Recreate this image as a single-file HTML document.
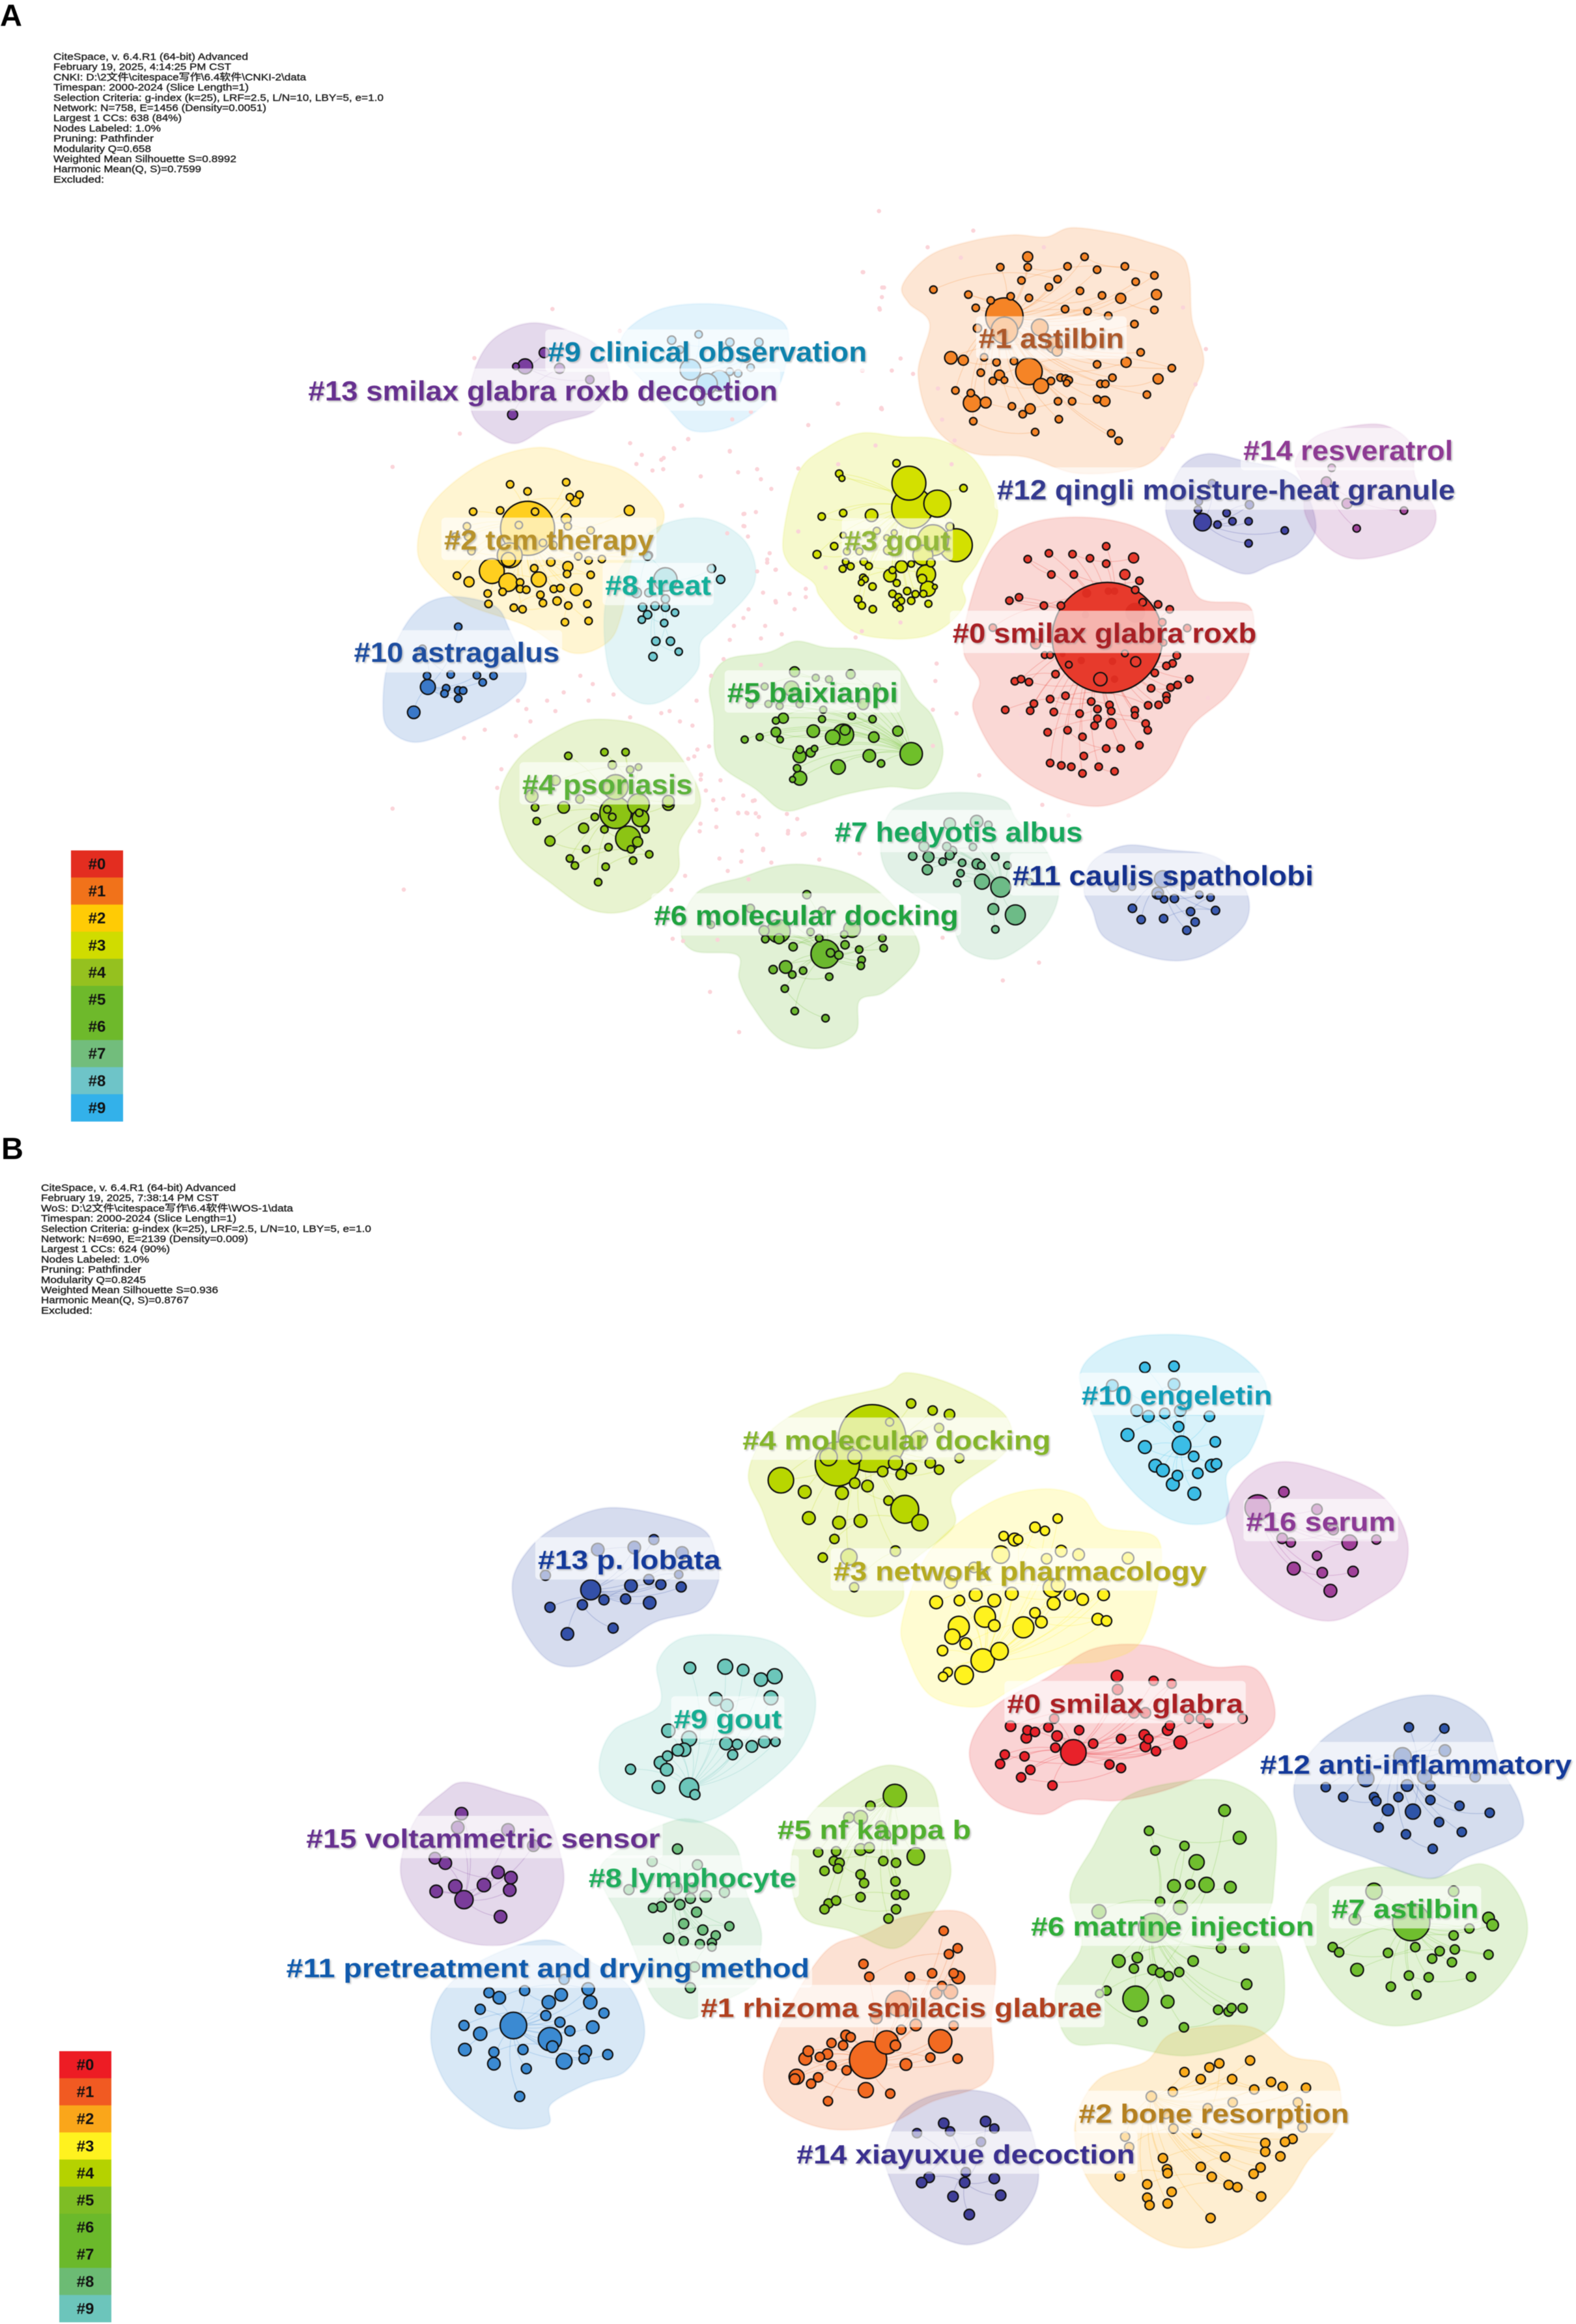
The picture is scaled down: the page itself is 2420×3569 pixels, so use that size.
<!DOCTYPE html>
<html lang="en">
<head>
<meta charset="utf-8">
<title>CiteSpace keyword cluster maps</title>
<style>
html,body{margin:0;padding:0;background:#fff;}
body{width:2420px;height:3569px;overflow:hidden;}
svg{display:block;filter:blur(.6px);}
text{font-family:"Liberation Sans","Noto Sans CJK SC",sans-serif;}
.meta{font-size:14.5px;fill:#222;font-weight:400;stroke:#222;stroke-width:.4px;}
.panel{font-size:47px;font-weight:700;fill:#000;}
.lbl{font-weight:700;filter:drop-shadow(2px 2px 1px rgba(130,130,130,.45));}
.leg{font-weight:700;font-size:24px;fill:#111;text-anchor:middle;}
</style>
</head>
<body>
<svg id="chart" xmlns="http://www.w3.org/2000/svg" width="2420" height="3569" viewBox="0 0 2420 3569">
<rect width="2420" height="3569" fill="#fff"/>
<text class="panel" x="0" y="40">A</text>
<g>
<text class="meta" x="82" y="92" textLength="299" lengthAdjust="spacingAndGlyphs">CiteSpace, v. 6.4.R1 (64-bit) Advanced</text>
<text class="meta" x="82" y="107.7" textLength="273" lengthAdjust="spacingAndGlyphs">February 19, 2025, 4:14:25 PM CST</text>
<text class="meta" x="82" y="123.4" textLength="388" lengthAdjust="spacingAndGlyphs">CNKI: D:\2文件\citespace写作\6.4软件\CNKI-2\data</text>
<text class="meta" x="82" y="139.1" textLength="300" lengthAdjust="spacingAndGlyphs">Timespan: 2000-2024 (Slice Length=1)</text>
<text class="meta" x="82" y="154.8" textLength="507" lengthAdjust="spacingAndGlyphs">Selection Criteria: g-index (k=25), LRF=2.5, L/N=10, LBY=5, e=1.0</text>
<text class="meta" x="82" y="170.5" textLength="327" lengthAdjust="spacingAndGlyphs">Network: N=758, E=1456 (Density=0.0051)</text>
<text class="meta" x="82" y="186.2" textLength="197" lengthAdjust="spacingAndGlyphs">Largest 1 CCs: 638 (84%)</text>
<text class="meta" x="82" y="201.9" textLength="165" lengthAdjust="spacingAndGlyphs">Nodes Labeled: 1.0%</text>
<text class="meta" x="82" y="217.6" textLength="154" lengthAdjust="spacingAndGlyphs">Pruning: Pathfinder</text>
<text class="meta" x="82" y="233.3" textLength="150" lengthAdjust="spacingAndGlyphs">Modularity Q=0.658</text>
<text class="meta" x="82" y="249" textLength="281" lengthAdjust="spacingAndGlyphs">Weighted Mean Silhouette S=0.8992</text>
<text class="meta" x="82" y="264.7" textLength="227" lengthAdjust="spacingAndGlyphs">Harmonic Mean(Q, S)=0.7599</text>
<text class="meta" x="82" y="280.4" textLength="78" lengthAdjust="spacingAndGlyphs">Excluded:</text>
</g>
<text class="panel" x="2" y="1780">B</text>
<g>
<text class="meta" x="63" y="1829" textLength="299" lengthAdjust="spacingAndGlyphs">CiteSpace, v. 6.4.R1 (64-bit) Advanced</text>
<text class="meta" x="63" y="1844.7" textLength="273" lengthAdjust="spacingAndGlyphs">February 19, 2025, 7:38:14 PM CST</text>
<text class="meta" x="63" y="1860.4" textLength="387" lengthAdjust="spacingAndGlyphs">WoS: D:\2文件\citespace写作\6.4软件\WOS-1\data</text>
<text class="meta" x="63" y="1876.1" textLength="300" lengthAdjust="spacingAndGlyphs">Timespan: 2000-2024 (Slice Length=1)</text>
<text class="meta" x="63" y="1891.8" textLength="507" lengthAdjust="spacingAndGlyphs">Selection Criteria: g-index (k=25), LRF=2.5, L/N=10, LBY=5, e=1.0</text>
<text class="meta" x="63" y="1907.5" textLength="318" lengthAdjust="spacingAndGlyphs">Network: N=690, E=2139 (Density=0.009)</text>
<text class="meta" x="63" y="1923.2" textLength="198" lengthAdjust="spacingAndGlyphs">Largest 1 CCs: 624 (90%)</text>
<text class="meta" x="63" y="1938.9" textLength="166" lengthAdjust="spacingAndGlyphs">Nodes Labeled: 1.0%</text>
<text class="meta" x="63" y="1954.6" textLength="154" lengthAdjust="spacingAndGlyphs">Pruning: Pathfinder</text>
<text class="meta" x="63" y="1970.3" textLength="161" lengthAdjust="spacingAndGlyphs">Modularity Q=0.8245</text>
<text class="meta" x="63" y="1986" textLength="272" lengthAdjust="spacingAndGlyphs">Weighted Mean Silhouette S=0.936</text>
<text class="meta" x="63" y="2001.7" textLength="227" lengthAdjust="spacingAndGlyphs">Harmonic Mean(Q, S)=0.8767</text>
<text class="meta" x="63" y="2017.4" textLength="79" lengthAdjust="spacingAndGlyphs">Excluded:</text>
</g>
<g id="blobs"></g>
<g id="dots"></g>
<g id="edges"></g>
<g id="nodes"></g>
<g id="labels"></g>
<g id="legends"></g>
</svg>
<script>
/* layout frames: map layout units onto the page */
const frameAR={ox:1300,oy:300,kx:1.568,ky:1.568};
const frameAL={ox:400,oy:400,kx:1.568,ky:1.568};
const frameAB={ox:950,oy:1150,kx:1.568,ky:3};
const frameAC={ox:1000,oy:600,kx:2.613,ky:2.613};
const frameBR={ox:1000,oy:2050,kx:1.12,ky:1.12};
const frameBL={ox:400,oy:2300,kx:1.568,ky:1.568};

/* PANEL A — nodes [x,y,size] and hull outlines [x,y] */
const a0Nodes=[[628,1065,133],[625,845,9],[487,862,9],[544,864,9],[586,874,9],[691,873,12],[436,876,9],[625,887,9],[493,913,9],[547,913,9],[670,913,12],[705,928,9],[392,976,9],[415,968,9],[695,950,9],[750,985,9],[778,997,9],[475,988,9],[516,988,9],[713,980,9],[352,1041,9],[455,1080,12],[760,1028,9],[820,1042,9],[763,1077,8],[795,1108,9],[477,1107,8],[490,1107,8],[535,1130,8],[670,1103,8],[696,1123,12],[785,1127,9],[770,1133,9],[503,1153,9],[742,1150,9],[405,1170,9],[420,1165,9],[439,1172,9],[611,1165,16],[733,1187,9],[780,1185,9],[797,1179,9],[825,1165,9],[770,1205,9],[770,1215,8],[726,1228,9],[751,1227,9],[527,1205,9],[490,1213,9],[451,1224,9],[589,1219,9],[633,1227,9],[442,1241,9],[382,1239,9],[499,1244,9],[561,1248,9],[604,1237,9],[637,1242,9],[694,1240,9],[694,1252,8],[604,1260,9],[637,1272,12],[597,1277,9],[720,1272,9],[725,1288,9],[484,1293,9],[532,1288,9],[568,1304,9],[625,1332,9],[660,1332,9],[705,1324,9],[571,1350,9],[490,1367,9],[517,1373,9],[541,1376,9],[607,1376,9],[568,1392,9],[645,1387,9]];
const a0Inner=[[578,958,11],[630,953,9],[645,953,9],[695,1005,24],[565,1120,9],[640,1122,9],[575,1010,9],[520,1105,7],[680,1065,12],[560,1045,9],[645,1165,9]];
const a0Hull=[[282,1100],[295,990],[350,850],[440,790],[570,775],[700,800],[800,870],[850,970],[970,990],[970,1100],[920,1200],[830,1280],[760,1400],[620,1470],[480,1440],[370,1360],[305,1240],[320,1170]];
const a1Nodes=[[380,292,45],[439,424,32],[436,148,12],[436,173,9],[370,173,9],[532,171,9],[573,148,9],[603,179,9],[670,171,9],[741,193,9],[696,208,9],[421,205,9],[508,202,9],[487,221,9],[209,227,9],[293,239,9],[347,253,9],[395,243,9],[439,247,9],[562,230,9],[615,241,9],[660,248,12],[746,239,12],[741,276,9],[311,271,9],[526,274,9],[580,279,9],[630,290,9],[693,310,9],[315,320,10],[380,325,32],[465,318,20],[500,360,20],[507,375,12],[708,378,9],[251,391,15],[281,397,12],[331,390,9],[361,402,9],[403,399,9],[603,407,9],[673,402,12],[783,416,9],[323,427,9],[368,433,12],[352,447,9],[380,445,8],[468,459,18],[492,447,9],[515,439,9],[527,441,9],[535,445,9],[530,452,8],[611,454,9],[623,454,9],[640,439,9],[750,442,12],[262,470,9],[299,476,9],[302,500,21],[335,499,13],[723,480,9],[509,496,9],[543,496,9],[603,491,9],[622,496,12],[398,508,9],[442,514,12],[424,527,9],[305,544,9],[511,539,9],[454,570,9],[637,573,9],[655,591,9]];
const a1Hull=[[135,215],[200,145],[300,110],[400,95],[480,100],[540,78],[640,90],[720,110],[800,140],[825,190],[832,300],[860,400],[825,490],[790,570],[720,650],[560,670],[430,630],[300,620],[210,555],[172,430],[200,310],[150,260]];
const a2Nodes=[[643,645,65],[557,748,30],[600,710,30],[596,775,22],[601,539,9],[643,556,9],[736,534,9],[745,570,9],[768,564,9],[758,580,12],[512,605,9],[577,602,9],[661,605,9],[888,602,12],[736,622,12],[622,637,9],[497,640,9],[740,640,9],[795,650,9],[500,665,9],[470,665,9],[508,700,9],[680,680,9],[705,685,9],[935,710,9],[765,712,9],[790,722,9],[822,719,9],[597,720,17],[699,726,10],[740,737,12],[738,755,9],[659,741,9],[670,768,18],[473,759,9],[502,774,12],[795,757,9],[625,775,9],[625,791,9],[640,793,9],[583,798,9],[547,802,9],[760,793,14],[706,791,9],[722,789,9],[674,805,9],[549,827,9],[610,836,9],[631,840,9],[680,825,9],[714,820,10],[741,831,9],[787,827,9],[733,871,9],[790,868,9]];
const a2Hull=[[378,700],[410,590],[530,490],[670,450],[780,480],[880,510],[965,590],[960,650],[900,700],[870,850],[835,920],[750,945],[640,880],[500,830],[420,770]];
const a3Nodes=[[1047,470,82],[1034,371,68],[1148,453,54],[1222,620,66],[1130,600,62],[984,291,15],[754,333,15],[765,352,12],[1253,391,15],[684,505,15],[770,491,15],[884,500,25],[905,562,14],[1198,545,16],[770,580,12],[945,590,12],[975,570,12],[734,624,15],[665,657,16],[785,645,14],[835,645,14],[950,640,18],[1090,660,40],[780,686,13],[853,686,15],[768,715,14],[800,705,14],[873,704,14],[1004,706,24],[1043,695,13],[1122,690,17],[968,720,14],[958,742,25],[1103,737,38],[1087,755,18],[850,750,14],[858,757,13],[843,770,12],[888,786,15],[985,772,14],[1110,795,30],[1138,787,10],[830,837,15],[845,862,15],[889,877,15],[968,815,15],[1027,804,15],[992,828,14],[1003,843,14],[1060,816,14],[1092,815,14],[1043,843,15],[983,857,14],[998,873,13],[1112,855,14]];
const a3Hull=[[530,580],[590,330],[700,230],[840,170],[1000,185],[1150,195],[1290,270],[1375,420],[1385,530],[1310,690],[1250,780],[1260,850],[1200,930],[1100,985],[950,995],[800,960],[680,830],[650,770],[550,690]];
const a4Nodes=[[855,1330,38],[885,1392,30],[910,1310,26],[915,1343,20],[741,1193,9],[828,1184,9],[879,1184,9],[847,1215,10],[890,1226,9],[910,1220,8],[710,1252,12],[653,1290,15],[855,1268,30],[982,1310,14],[982,1302,14],[769,1297,10],[661,1317,9],[730,1317,14],[835,1322,9],[847,1340,9],[912,1330,9],[805,1340,9],[665,1350,9],[778,1367,12],[828,1370,9],[927,1370,9],[908,1400,12],[697,1398,12],[784,1418,9],[838,1413,9],[892,1418,9],[745,1440,9],[757,1457,9],[936,1430,9],[897,1445,9],[831,1460,9],[813,1497,9]];
const a4Hull=[[575,1300],[620,1200],[720,1130],[800,1105],[920,1120],[1000,1180],[1060,1300],[1010,1400],[1000,1480],[900,1560],[800,1565],[700,1500],[610,1420]];
const a5Nodes=[[770,1380,42],[1043,1457,45],[728,1390,29],[575,1128,20],[800,1138,18],[660,1152,14],[713,1158,14],[562,1195,30],[455,1187,14],[905,1187,14],[395,1260,14],[470,1257,14],[515,1265,14],[595,1258,14],[850,1258,22],[690,1280,14],[530,1314,20],[500,1324,14],[685,1318,14],[805,1305,15],[888,1318,15],[500,1370,19],[650,1366,25],[778,1362,20],[893,1390,21],[989,1366,20],[375,1400,14],[435,1390,14],[517,1400,13],[596,1440,15],[640,1452,18],[655,1436,13],[595,1467,26],[875,1465,25],[922,1496,15],[750,1510,29],[585,1515,15],[596,1555,28],[567,1560,12]];
const a5Hull=[[235,1180],[300,1080],[470,1050],[580,1005],[700,1030],[850,1040],[980,1100],[1060,1230],[1130,1310],[1170,1460],[1100,1590],[950,1590],[780,1620],[650,1660],[530,1685],[420,1600],[270,1490],[250,1310]];
const a6Nodes=[[497,945,34],[385,840,28],[453,672,10],[317,735,10],[490,745,9],[222,810,9],[350,838,12],[462,843,9],[562,830,20],[353,877,9],[386,875,12],[483,872,9],[543,855,9],[635,872,9],[420,912,10],[545,903,10],[579,925,9],[638,918,9],[530,950,10],[510,940,10],[585,972,9],[583,1000,9],[402,1005,15],[372,1017,10],[418,1040,9],[444,1022,9],[507,1050,9],[400,1105,9],[424,1208,9],[498,1241,9]];
const a6Hull=[[150,830],[190,660],[300,590],[380,540],[460,535],[560,580],[640,680],[715,860],[715,980],[640,1120],[580,1160],[570,1310],[490,1380],[390,1340],[320,1180],[290,1060],[285,950],[180,930]];
const a7Nodes=[[920,637,24],[955,765,24],[875,612,18],[797,345,14],[862,335,15],[890,350,9],[728,410,12],[735,450,12],[853,452,9],[790,450,10],[803,470,11],[797,490,11],[708,494,10],[746,498,13],[780,520,9],[827,525,9],[907,497,9],[863,530,12],[873,538,9],[936,537,9],[743,557,12],[823,573,9],[815,618,9],[990,613,8],[902,738,13],[907,832,9]];
const a7Hull=[[630,450],[650,300],[700,240],[780,205],[860,205],[930,240],[960,330],[1030,470],[1060,650],[1030,810],[960,930],[900,970],[830,920],[790,770],[710,670],[650,580]];
const a8Nodes=[[975,768,28],[1086,742,10],[1108,768,10],[932,712,10],[905,800,12],[920,835,10],[950,832,10],[975,835,10],[998,848,9],[932,853,10],[918,865,9],[972,873,9],[952,917,10],[987,917,10],[1007,942,9],[945,954,10],[935,800,10],[975,815,10]];
const a8Hull=[[830,830],[880,720],[960,640],[1075,622],[1170,680],[1188,780],[1100,880],[1060,920],[1050,990],[970,1060],[900,1060],[840,990]];
const a9Nodes=[[1035,263,25],[1105,290,25],[1075,297,25],[990,192,10],[1055,178,9],[1130,197,10],[1200,197,10],[1130,268,9],[1150,272,9],[1180,258,9],[1170,235,10],[1060,340,9],[1010,215,9]];
const a9Hull=[[880,170],[970,115],[1100,105],[1220,130],[1270,170],[1260,270],[1220,340],[1130,400],[1040,410],[985,360],[920,290],[870,230]];
const a10Nodes=[[403,1027,18],[369,1088,15],[476,882,9],[390,935,9],[401,1000,9],[458,997,9],[521,999,9],[561,1000,9],[535,1016,9],[447,1030,9],[443,1043,9],[476,1035,9],[488,1036,9],[476,1055,9]];
const a10Hull=[[295,1070],[310,960],[370,850],[450,810],[560,830],[600,890],[640,1000],[600,1060],[500,1115],[380,1160],[310,1130]];
const a11Nodes=[[1310,600,20],[1192,635,12],[1236,635,9],[1298,665,14],[1378,630,9],[1313,693,9],[1300,675,9],[1338,690,10],[1398,672,9],[1425,685,9],[1237,735,10],[1377,750,10],[1437,745,10],[1258,787,10],[1312,782,10],[1388,798,10],[1368,836,10]];
const a11Hull=[[1120,650],[1140,520],[1220,445],[1320,465],[1440,500],[1510,650],[1510,800],[1440,920],[1360,975],[1270,955],[1170,870],[1140,740]];
const a12Nodes=[[857,787,21],[880,693,9],[848,737,9],[970,745,10],[846,757,9],[915,765,9],[893,793,9],[929,785,9],[968,785,9],[1055,807,9],[968,838,9]];
const a12Hull=[[775,720],[810,650],[870,622],[960,640],[1050,660],[1100,700],[1130,800],[1090,860],[1020,890],[960,912],[880,880],[800,830],[770,770]];
const a13Nodes=[[637,255,18],[683,222,12],[615,255,8],[720,260,12],[793,287,10],[607,371,12]];
const a13Hull=[[510,280],[560,190],[660,150],[790,190],[830,240],[840,310],[800,365],[700,395],[620,440],[560,420],[510,370]];
const a14Nodes=[[1155,690,12],[1168,656,9],[1205,742,12],[1342,759,9],[1228,802,9]];
const a14Hull=[[1080,640],[1130,580],[1220,555],[1300,555],[1360,600],[1370,680],[1418,760],[1400,820],[1320,860],[1220,875],[1150,840],[1105,770],[1100,700]];

/* PANEL B */
const b0Nodes=[[726,718,22],[801,587,10],[864,595,8],[895,600,8],[802,610,9],[850,650,9],[830,650,9],[925,660,8],[945,660,8],[958,668,8],[1017,660,8],[618,673,9],[693,660,8],[647,680,8],[660,683,8],[683,675,8],[736,680,8],[645,693,9],[698,690,9],[808,695,8],[848,688,9],[855,695,8],[888,680,9],[892,672,8],[910,701,11],[695,710,8],[760,703,8],[608,722,8],[642,725,8],[850,708,9],[868,716,8],[600,738,8],[652,748,8],[636,761,8],[788,739,8],[808,745,8],[690,775,8]];
const b0Hull=[[547,720],[590,640],[680,590],[760,540],[860,535],[960,570],[1040,575],[1073,650],[1040,700],[920,770],[810,800],[730,800],[670,825],[590,800]];
const b1Nodes=[[373,1247,32],[425,1150,22],[497,1215,20],[405,1217,20],[503,1025,8],[527,1055,8],[512,1065,8],[365,1082,8],[375,1104,8],[445,1104,8],[483,1098,8],[528,1105,11],[520,1098,8],[490,1132,10],[515,1130,12],[500,1120,8],[387,1175,10],[455,1187,10],[430,1195,8],[520,1188,8],[420,1222,9],[335,1205,9],[343,1208,8],[310,1218,8],[330,1222,8],[270,1232,9],[303,1237,9],[265,1245,11],[290,1242,8],[438,1255,10],[480,1243,8],[527,1245,8],[310,1257,8],[336,1265,8],[250,1276,13],[247,1280,9],[287,1277,8],[275,1288,8],[369,1299,13],[411,1305,8],[304,1318,8]];
const b1Hull=[[193,1270],[230,1170],[300,1060],[370,1030],[440,1000],[540,995],[590,1070],[585,1180],[580,1280],[480,1320],[400,1360],[300,1365],[220,1330]];
const b2Nodes=[[938,1373,8],[1030,1248,8],[977,1253,8],[960,1260,8],[917,1268,8],[945,1280,8],[999,1280,8],[1066,1285,8],[1086,1293,8],[1037,1298,8],[1126,1295,8],[897,1302,8],[860,1310,9],[1000,1320,8],[1112,1320,8],[885,1340,8],[957,1330,8],[1120,1363,8],[898,1365,8],[815,1379,8],[822,1397,8],[1103,1383,8],[1056,1390,8],[1090,1388,8],[1056,1405,8],[1082,1413,8],[880,1416,8],[987,1414,8],[887,1435,8],[945,1431,8],[888,1442,8],[1048,1432,8],[806,1447,8],[964,1448,8],[1036,1443,8],[853,1461,8],[993,1462,8],[1008,1466,8],[895,1474,8],[853,1484,8],[1049,1482,8],[857,1497,8],[888,1494,8],[962,1519,8]];
const b2Hull=[[730,1350],[770,1280],[850,1250],[900,1200],[1030,1190],[1100,1240],[1170,1260],[1185,1350],[1130,1420],[1090,1480],[1010,1550],[900,1568],[790,1500],[740,1430]];
const b3Nodes=[[570,560,20],[640,503,18],[574,485,18],[529,502,18],[699,316,8],[660,331,9],[677,337,8],[606,346,8],[625,352,11],[631,352,8],[601,378,15],[705,372,10],[735,378,10],[820,384,10],[680,385,9],[515,425,11],[555,400,9],[570,412,9],[690,435,16],[700,430,12],[490,460,11],[530,457,9],[558,447,11],[590,457,11],[620,445,11],[692,462,11],[720,447,10],[742,455,10],[778,447,10],[660,478,9],[671,494,10],[590,500,10],[768,489,10],[783,492,9],[518,519,13],[541,531,10],[599,544,15],[501,543,9],[538,585,16],[510,580,8],[502,588,8]];
const b3Hull=[[432,490],[480,370],[580,290],[670,265],[740,280],[780,330],[870,350],[870,440],[840,530],[780,560],[700,570],[620,610],[560,640],[480,620],[440,550]];
const b4Nodes=[[380,178,58],[320,222,38],[436,300,24],[223,250,22],[447,118,8],[484,130,8],[513,137,9],[460,180,15],[495,160,8],[410,150,7],[305,210,15],[350,210,12],[420,220,12],[447,230,9],[430,240,9],[398,235,9],[480,220,9],[495,232,8],[530,212,8],[264,270,11],[328,272,11],[350,255,9],[372,260,10],[408,285,8],[462,323,14],[271,315,11],[323,323,11],[360,320,11],[315,351,8],[295,383,8],[420,372,9],[340,382,14],[349,434,8]];
const b4Hull=[[167,240],[200,170],[280,120],[400,90],[440,65],[530,90],[610,140],[610,200],[520,270],[520,330],[440,400],[430,460],[370,485],[290,450],[220,370],[190,300]];
const b5Nodes=[[419,793,20],[455,897,15],[377,810,8],[360,830,12],[340,830,9],[395,845,9],[375,882,9],[287,890,8],[318,888,8],[403,860,9],[360,885,10],[399,905,8],[421,908,8],[298,922,8],[314,905,8],[324,908,8],[321,918,8],[360,928,8],[366,943,8],[420,940,8],[360,967,8],[421,963,8],[435,963,8],[305,978,8],[318,973,8],[298,988,8],[421,988,8],[408,1004,8]];
const b5Hull=[[240,910],[270,830],[340,770],[410,740],[480,770],[500,850],[515,930],[480,1000],[420,1055],[340,1025],[260,1000]];
const b6Nodes=[[833,1142,22],[863,1020,25],[986,818,10],[856,853,8],[867,887,8],[1012,865,11],[917,879,8],[938,907,13],[899,948,11],[927,945,8],[955,946,13],[996,950,10],[875,975,8],[910,985,12],[770,992,12],[980,1055,8],[1020,1055,8],[804,1077,11],[836,1071,9],[932,1077,9],[830,1090,8],[863,1092,9],[875,1097,8],[890,1103,8],[908,1096,8],[1024,1117,9],[783,1128,8],[771,1133,7],[888,1147,11],[845,1181,8],[916,1191,8],[975,1161,8],[993,1164,8],[998,1158,8],[1017,1158,8]];
const b6Hull=[[695,1130],[740,1050],[720,960],[760,880],[810,800],[900,770],[1000,770],[1070,830],[1070,960],[1060,1010],[1085,1070],[1085,1160],[1040,1210],[920,1240],[800,1220],[720,1215]];
const b7Nodes=[[1307,1010,32],[1243,957,14],[1380,957,9],[1210,1005,10],[1440,1003,10],[1447,1015,10],[1407,1021,8],[1380,1033,8],[1172,1053,8],[1183,1062,8],[1267,1063,8],[1314,1053,8],[1356,1060,8],[1382,1057,8],[1343,1073,8],[1440,1066,8],[1377,1079,8],[1214,1092,11],[1303,1102,8],[1337,1105,8],[1410,1104,8],[1272,1121,8],[1316,1135,8]];
const b7Hull=[[1118,1020],[1150,950],[1250,915],[1340,935],[1430,910],[1490,960],[1505,1040],[1450,1130],[1370,1170],[1260,1187],[1170,1130]];
const b8Nodes=[[1040,940,12],[1004,846,12],[943,876,12],[1052,884,12],[887,944,12],[1000,940,15],[1117,950,12],[985,962,12],[1035,965,12],[1072,960,14],[945,988,11],[965,985,12],[1010,980,12],[1050,998,12],[1019,1026,12],[1129,1032,11],[1065,1041,12],[983,1061,12],[1019,1068,11],[1096,1054,11],[1058,1075,11],[1087,1072,11],[1087,1082,10],[1045,1130,12],[1035,1180,12]];
const b8Hull=[[815,900],[890,830],[960,790],[1040,775],[1140,830],[1170,950],[1205,1040],[1200,1110],[1190,1170],[1100,1220],[1030,1255],[950,1210],[900,1090],[870,1020]];
const b9Nodes=[[1032,698,23],[1034,410,14],[1119,407,18],[1162,415,14],[1205,438,16],[1238,430,18],[1229,482,17],[1096,485,16],[1123,500,15],[982,561,16],[1032,580,18],[1121,592,15],[1148,594,12],[1183,599,14],[1213,588,14],[1240,588,11],[1137,619,12],[1020,607,16],[1005,608,14],[980,622,12],[963,638,15],[978,655,15],[891,654,12],[958,697,15],[1046,715,12]];
const b9Hull=[[815,650],[850,560],[960,500],[955,400],[1010,340],[1120,330],[1240,350],[1320,430],[1335,520],[1290,620],[1190,710],[1070,780],[950,760],[850,720]];
const b10Nodes=[[912,190,16],[849,56,9],[899,54,9],[899,85,10],[793,87,10],[835,130,10],[855,140,10],[883,135,9],[910,130,10],[960,140,9],[907,158,9],[819,172,11],[849,193,11],[970,184,9],[933,209,9],[867,225,11],[880,233,11],[964,225,11],[972,222,9],[905,242,9],[940,238,9],[897,257,11],[934,273,11]];
const b10Hull=[[737,70],[780,20],[860,0],[970,10],[1050,70],[1055,130],[1030,200],[990,240],[990,310],[920,325],[850,290],[790,220],[765,150]];
const b11Nodes=[[609,1271,32],[697,1304,28],[731,1160,12],[789,1183,15],[550,1192,12],[575,1204,15],[636,1187,12],[724,1197,15],[694,1215,16],[794,1215,16],[529,1232,12],[827,1241,12],[687,1247,12],[721,1263,12],[490,1271,12],[745,1284,12],[800,1275,15],[529,1291,16],[703,1322,14],[492,1329,15],[562,1335,12],[632,1329,12],[782,1334,15],[836,1341,12],[779,1351,12],[562,1363,15],[731,1357,19],[640,1375,12],[624,1442,12]];
const b11Hull=[[410,1290],[440,1190],[540,1110],[690,1065],[800,1120],[890,1180],[925,1290],[880,1380],[790,1410],[700,1460],[690,1510],[580,1515],[480,1450],[430,1380]];
const b12Nodes=[[1310,820,13],[1292,725,15],[1303,675,8],[1364,677,8],[1229,763,14],[1330,760,12],[1365,715,10],[1417,760,9],[1160,778,8],[1190,795,8],[1243,795,8],[1247,802,8],[1300,775,10],[1340,775,8],[1285,795,8],[1340,800,8],[1390,810,8],[1442,822,8],[1267,817,10],[1355,838,8],[1251,847,8],[1298,859,8],[1394,855,8],[1344,884,8]];
const b12Hull=[[1105,780],[1150,700],[1250,640],[1350,620],[1430,660],[1460,740],[1495,810],[1490,860],[1400,900],[1340,935],[1230,900],[1140,860]];
const b13Nodes=[[795,222,24],[947,101,12],[812,125,15],[900,120,15],[1015,133,15],[686,187,12],[1007,185,10],[892,212,15],[935,197,12],[964,209,12],[1013,215,12],[827,246,12],[879,244,12],[937,253,15],[697,264,12],[775,258,12],[739,328,15],[849,314,12]];
const b13Hull=[[607,200],[650,120],[720,65],[830,25],[960,40],[1070,80],[1100,160],[1100,210],[1060,270],[950,300],[860,360],[770,405],[690,390],[625,300]];
const b14Nodes=[[539,1458,9],[457,1373,8],[503,1356,9],[514,1370,8],[575,1353,9],[590,1365,8],[567,1388,8],[478,1449,9],[465,1458,9],[541,1440,8],[590,1451,9],[519,1482,9],[601,1480,9],[547,1513,9]];
const b14Hull=[[403,1400],[440,1330],[520,1300],[600,1310],[650,1360],[665,1460],[620,1530],[540,1565],[450,1520],[410,1450]];
const b15Nodes=[[490,968,22],[484,761,15],[475,794,15],[596,800,15],[657,838,14],[420,868,14],[445,880,15],[572,902,15],[603,915,15],[423,948,15],[469,936,16],[538,933,16],[600,945,15],[578,1009,15]];
const b15Hull=[[337,900],[370,780],[440,710],[490,685],[590,710],[680,745],[720,850],[728,940],[680,1030],[580,1078],[460,1060],[380,1000]];
const b16Nodes=[[1043,297,22],[1088,270,9],[1145,300,9],[1085,350,9],[1100,357,8],[1173,335,9],[1201,357,13],[1247,352,8],[1145,380,8],[1105,402,11],[1154,409,9],[1207,407,9],[1168,440,11]];
const b16Hull=[[990,300],[1030,240],[1090,218],[1180,240],[1260,280],[1300,350],[1290,420],[1240,460],[1170,492],[1090,470],[1020,410],[1000,350]];

/* pink singleton keywords in panel A */
const dotsAL=[[703,117],[865,170],[1450,28],[1497,65],[1490,115],[1520,265],[1450,265],[1390,345],[1495,355],[515,235],[480,417],[1030,430],[995,452],[965,480],[890,440],[918,468],[1130,460],[905,490],[1060,520],[1150,510],[1230,550],[318,497],[1015,590],[1165,610],[1165,640],[1240,745],[1220,720],[1210,800],[1175,840],[1240,820],[1140,880],[1215,880],[1115,960],[1085,1000],[1205,910],[1255,900],[1050,1060],[985,1085],[965,1090],[1010,1110],[1040,1120],[890,1100],[850,1045],[770,1000],[800,1020],[790,1060],[730,1040],[620,1060],[640,1080],[690,1060],[710,1085],[650,1110],[540,1130],[490,1150],[615,1145],[1030,1200],[1080,1170],[1060,1250],[1090,1300],[1150,1330],[1170,1330],[1190,1300],[1200,1340],[1270,1380],[1310,1380],[1210,1420],[1105,1440],[1125,1470],[1175,1490],[1230,1450],[318,1320],[345,1515],[580,1225],[570,1270]];
const dotsAC=[[750,52],[922,72],[630,138],[400,85],[325,115],[148,195],[92,233],[315,242],[50,270],[5,320],[48,315],[425,315],[440,355],[120,462],[370,495],[420,487],[370,543],[305,572],[388,585],[475,652],[465,690],[425,725],[500,718],[590,312],[620,795],[620,828],[555,815],[575,877],[500,850],[370,912],[315,1000],[820,990],[1145,1095],[1140,1165],[1130,1280],[1225,1295],[185,1440],[200,1540],[1130,1425],[440,1100],[900,220],[750,295],[1205,295],[1000,930],[845,965],[700,710],[590,565]];
const dotsAR=[[78,38],[40,185],[90,222],[85,245],[80,275],[130,393],[160,430],[37,422],[305,85],[475,125],[195,125],[275,150],[865,370],[810,270],[840,455],[220,465],[85,515],[230,540],[260,590],[785,580],[760,610],[1300,730],[400,1100],[420,1250],[870,1210]];
const dotsAB=[[182,35],[198,120],[245,145],[210,192],[252,230],[300,215],[323,240],[235,280],[288,297],[310,297],[330,297],[405,300],[430,323],[197,345],[235,360],[195,380],[333,395],[408,378],[443,395],[297,470],[348,460],[295,520],[483,510],[580,482],[160,585],[127,650],[238,880],[130,875],[155,885],[780,870],[1012,985],[925,1067],[220,1120],[290,1305],[868,122],[1020,258],[1083,307]];

/* cluster labels: text, left, right, baseline (layout units) */
const labelsAR=[["#1 astilbin",318,668,368],["#14 resveratrol",955,1460,637],["#12 qingli moisture-heat granule",362,1465,732],["#0 smilax glabra roxb",255,987,1077]];
const labelsAC=[["#3 gout",775,1200,640],["#5 baixianpi",305,990,1250]];
const labelsAL=[["#8 treat",830,1085,805],["#9 clinical observation",692,1460,243],["#13 smilax glabra roxb decoction",115,1245,337],["#2 tcm therapy",442,947,696],["#10 astragalus",225,720,967],["#4 psoriasis",630,1040,1285]];
const labelsAB=[["#7 hedyotis albus",520,1117,428],["#6 molecular docking",85,818,812],["#11 caulis spatholobi",948,1673,628]];
const labelsBR=[["#4 molecular docking",157,687,197],["#10 engeletin",740,1068,120],["#3 network pharmacology",313,955,422],["#16 serum",1023,1280,337],["#0 smilax glabra",612,1018,650],["#12 anti-inflammatory",1047,1583,755],["#5 nf kappa b",217,550,867],["#6 matrine injection",653,1140,1033],["#7 astilbin",1170,1423,1003],["#1 rhizoma smilacis glabrae",85,775,1173],["#2 bone resorption",735,1200,1355],["#14 xiayuxue decoction",250,832,1425]];
const labelsBL=[["#13 p. lobata",668,1108,172],["#9 gout",995,1255,555],["#15 voltammetric sensor",110,962,843],["#8 lymphocyte",790,1290,938],["#11 pretreatment and drying method",62,1322,1155]];
const labelColorsAR=["#ad582a","#8e3a94","#33398f","#a81f24"];
const labelColorsAC=["#92b83a","#2aa53a"];
const labelColorsAL=["#14b09b","#0d82ad","#66308f","#b8922a","#1d4da0","#5cb33a"];
const labelColorsAB=["#17a85c","#1fa33f","#14318f"];
const labelColorsBR=["#84b52a","#0f9db8","#b5ab1f","#8c3a96","#ab1f23","#13399a","#50b02e","#2fae39","#2fae39","#b1401f","#b5801f","#3a2f8f"];
const labelColorsBL=["#13399a","#15ad92","#66308f","#1fad5c","#0f5aad"];

/* legends */
const legendNames=["#0","#1","#2","#3","#4","#5","#6","#7","#8","#9"];
const legendColorsA=["#e32d20","#f1721a","#ffcb05","#d0dc00","#95c11f","#6eb92b","#6eb92b","#72bd7c","#6ec4c8","#33b1ea"];
const legendColorsB=["#ed1c24","#f15a22","#faa61a","#fff21f","#b5d200","#7ebd25","#6bb92b","#6bb92b","#6cbb74","#6cc5bb"];

const clusterTable=[
[frameAR,a0Nodes,a0Hull,"#e73a2c"],[frameAR,a1Nodes,a1Hull,"#f58426"],[frameAL,a2Nodes,a2Hull,"#ffcf1f"],[frameAC,a3Nodes,a3Hull,"#d3e000"],[frameAL,a4Nodes,a4Hull,"#8cc414"],[frameAC,a5Nodes,a5Hull,"#6fbf2a"],[frameAB,a6Nodes,a6Hull,"#6bb82e"],[frameAB,a7Nodes,a7Hull,"#6dbb87"],[frameAL,a8Nodes,a8Hull,"#6fc8d0"],[frameAL,a9Nodes,a9Hull,"#6cc3f0"],[frameAL,a10Nodes,a10Hull,"#3a78c8"],[frameAB,a11Nodes,a11Hull,"#3a5ab0"],[frameAR,a12Nodes,a12Hull,"#4044a4"],[frameAL,a13Nodes,a13Hull,"#7a3f9f"],[frameAR,a14Nodes,a14Hull,"#a2479c"],
[frameBR,b0Nodes,b0Hull,"#e8222a"],[frameBR,b1Nodes,b1Hull,"#f26a21"],[frameBR,b2Nodes,b2Hull,"#fbab1a"],[frameBR,b3Nodes,b3Hull,"#fff21e"],[frameBR,b4Nodes,b4Hull,"#b8d600"],[frameBR,b5Nodes,b5Hull,"#80c21e"],[frameBR,b6Nodes,b6Hull,"#6fbe2e"],[frameBR,b7Nodes,b7Hull,"#6fbe2e"],[frameBL,b8Nodes,b8Hull,"#6fbf7e"],[frameBL,b9Nodes,b9Hull,"#6cc6ba"],[frameBR,b10Nodes,b10Hull,"#3bbde6"],[frameBL,b11Nodes,b11Hull,"#3b8ad2"],[frameBR,b12Nodes,b12Hull,"#2f55a8"],[frameBL,b13Nodes,b13Hull,"#3350a8"],[frameBR,b14Nodes,b14Hull,"#3f3e98"],[frameBL,b15Nodes,b15Hull,"#7a3c9a"],[frameBR,b16Nodes,b16Hull,"#a04099"]
];

const NS="http://www.w3.org/2000/svg";
function mk(tag,parentId){const e=document.createElementNS(NS,tag);document.getElementById(parentId).appendChild(e);return e;}
function xAxis(f,v){return f.ox+v/f.kx;}
function yAxis(f,v){return f.oy+v/f.ky;}
function sizeAxis(f,v){return v/f.kx;}
function hullPath(f,pts){
  const P=pts.map(p=>[xAxis(f,p[0]),yAxis(f,p[1])]);const n=P.length;
  let d="M"+P[0][0].toFixed(1)+" "+P[0][1].toFixed(1);
  for(let i=0;i<n;i++){
    const p0=P[(i-1+n)%n],p1=P[i],p2=P[(i+1)%n],p3=P[(i+2)%n];
    const c1=[p1[0]+(p2[0]-p0[0])/6,p1[1]+(p2[1]-p0[1])/6];
    const c2=[p2[0]-(p3[0]-p1[0])/6,p2[1]-(p3[1]-p1[1])/6];
    d+="C"+c1[0].toFixed(1)+" "+c1[1].toFixed(1)+" "+c2[0].toFixed(1)+" "+c2[1].toFixed(1)+" "+p2[0].toFixed(1)+" "+p2[1].toFixed(1);
  }
  return d+"Z";
}
clusterTable.forEach(function(row){
  const f=row[0],nodes=row[1],hull=row[2],color=row[3];
  const h=mk("path","blobs");
  
  
  h.setAttribute("d",hullPath(f,hull));
  h.setAttribute("fill",color);h.setAttribute("fill-opacity",".2");
  h.setAttribute("stroke",color);h.setAttribute("stroke-opacity",".08");h.setAttribute("stroke-width","3");
  const hub=nodes.reduce((a,b)=>b[2]>a[2]?b:a,nodes[0]);
  nodes.forEach(function(n,i){
    const link=mk("path","edges");
    
    
    const x1=xAxis(f,n[0]),y1=yAxis(f,n[1]);
    const t=i%3===2?nodes[Math.max(0,i-2)]:hub;
    const x2=xAxis(f,t[0]),y2=yAxis(f,t[1]);
    const mx=(x1+x2)/2+(y2-y1)*.18,my=(y1+y2)/2-(x2-x1)*.18;
    link.setAttribute("d","M"+x1.toFixed(1)+" "+y1.toFixed(1)+"Q"+mx.toFixed(1)+" "+my.toFixed(1)+" "+x2.toFixed(1)+" "+y2.toFixed(1));
    link.setAttribute("fill","none");link.setAttribute("stroke",color);
    link.setAttribute("stroke-opacity",".22");link.setAttribute("stroke-width","1.4");
  });
  nodes.slice().sort((a,b)=>b[2]-a[2]).forEach(function(n){
    const c=mk("circle","nodes");
    
    
    c.setAttribute("cx",xAxis(f,n[0]).toFixed(1));
    c.setAttribute("cy",yAxis(f,n[1]).toFixed(1));
    c.setAttribute("r",sizeAxis(f,n[2]).toFixed(1));
    c.setAttribute("fill",color);c.setAttribute("stroke","#111");c.setAttribute("stroke-width","2.2");
  });
});
a0Inner.forEach(function(n){
  const c=mk("circle","nodes");
  
  
  c.setAttribute("cx",xAxis(frameAR,n[0]).toFixed(1));
  c.setAttribute("cy",yAxis(frameAR,n[1]).toFixed(1));
  c.setAttribute("r",sizeAxis(frameAR,n[2]).toFixed(1));
  c.setAttribute("fill","#d92a1e");c.setAttribute("fill-opacity",".75");
});
[[frameAL,dotsAL],[frameAC,dotsAC],[frameAR,dotsAR],[frameAB,dotsAB]].forEach(function(d){
  d[1].forEach(function(p){
    const c=mk("circle","dots");
    
    
    c.setAttribute("cx",xAxis(d[0],p[0]).toFixed(1));
    c.setAttribute("cy",yAxis(d[0],p[1]).toFixed(1));
    c.setAttribute("r","3.3");
    c.setAttribute("fill","#fbd4d9");
  });
});
const labelSets=[[frameAR,labelsAR,labelColorsAR,43],[frameAC,labelsAC,labelColorsAC,43],[frameAL,labelsAL,labelColorsAL,43],[frameAB,labelsAB,labelColorsAB,43],[frameBR,labelsBR,labelColorsBR,41],[frameBL,labelsBL,labelColorsBL,41]];
labelSets.forEach(function(set){
  const f=set[0];
  set[1].forEach(function(l){
    const x=xAxis(f,l[1]),w=(l[2]-l[1])/f.kx,y=yAxis(f,l[3]);
    const band=mk("rect","labels");
    
    
    band.setAttribute("x",(x-4).toFixed(1));band.setAttribute("y",(y-49).toFixed(1));
    band.setAttribute("width",(w+8).toFixed(1));band.setAttribute("height","65");
    band.setAttribute("rx","6");band.setAttribute("fill","#fff");band.setAttribute("fill-opacity",".62");
  });
});
labelSets.forEach(function(set){
  const f=set[0];
  set[1].forEach(function(l,i){
    const t=mk("text","labels");
    
    
    t.setAttribute("class","lbl");
    t.setAttribute("x",xAxis(f,l[1]).toFixed(1));t.setAttribute("y",yAxis(f,l[3]).toFixed(1));
    t.setAttribute("font-size",set[3]);t.setAttribute("fill",set[2][i]);
    t.setAttribute("textLength",((l[2]-l[1])/f.kx).toFixed(1));
    t.setAttribute("lengthAdjust","spacingAndGlyphs");
    t.textContent=l[0];
  });
});
[[109,1306,legendColorsA],[91,3150,legendColorsB]].forEach(function(L){
  legendNames.forEach(function(name,i){
    const r=mk("rect","legends");
    
    
    r.setAttribute("x",L[0]);r.setAttribute("y",L[1]+i*41.6);
    r.setAttribute("width","80");r.setAttribute("height","42");r.setAttribute("fill",L[2][i]);
    const t=mk("text","legends");
    
    
    t.setAttribute("class","leg");
    t.setAttribute("x",L[0]+40);t.setAttribute("y",L[1]+i*41.6+29);
    t.textContent=name;
  });
});
</script>
</body>
</html>
